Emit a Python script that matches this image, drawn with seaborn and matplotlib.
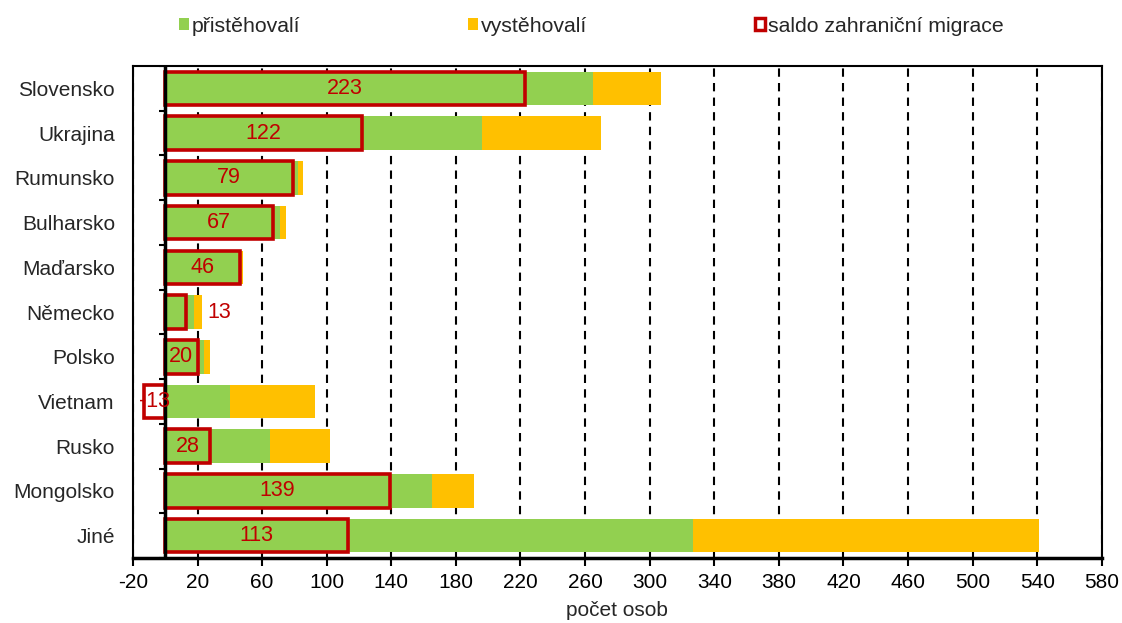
import numpy as np
import pandas as pd
import matplotlib.pyplot as plt
import seaborn as sns
from matplotlib.patches import Patch

# data
countries = ["Slovensko", "Ukrajina", "Rumunsko", "Bulharsko", "Maďarsko", "Německo",
             "Polsko", "Vietnam", "Rusko", "Mongolsko", "Jiné"]
immigrants = [265, 196, 82, 71, 47, 18, 24, 40, 65, 165, 327]
emigrants = [42, 74, 3, 4, 1, 5, 4, 53, 37, 26, 214]
saldo = [223, 122, 79, 67, 46, 13, 20, -13, 28, 139, 113]
x_ticks = list(range(-20, 581, 40))

df = pd.DataFrame({"zeme": countries, "prist": immigrants, "vyst": emigrants, "saldo": saldo})
df["celkem"] = df["prist"] + df["vyst"]

green = "#92D050"
orange = "#FFC000"
red = "#C00000"
fs = 15

sns.set_theme(style="white")
plt.rcParams["font.family"] = ["Liberation Sans", "DejaVu Sans"]
plt.rcParams["font.size"] = fs

fig = plt.figure(figsize=(11.22, 6.23), dpi=100)
ax = fig.add_axes([0.1185, 0.1043, 0.8635, 0.7897])

# stacked bars: orange total underneath, green on top
sns.barplot(data=df, y="zeme", x="celkem", color=orange, saturation=1, width=0.75,
            errorbar=None, orient="h", ax=ax, linewidth=0, zorder=2)
sns.barplot(data=df, y="zeme", x="prist", color=green, saturation=1, width=0.75,
            errorbar=None, orient="h", ax=ax, linewidth=0, zorder=2)
# saldo as outlined boxes
sns.barplot(data=df, y="zeme", x="saldo", color=red, saturation=1, width=0.75,
            errorbar=None, orient="h", ax=ax, facecolor="none", edgecolor=red,
            linewidth=2.6, zorder=3)

# labels of saldo
for i, row in df.iterrows():
    if row["zeme"] == "Německo":
        ax.text(row["celkem"] + 3, i, f"{row['saldo']}", color=red, fontsize=fs + 0.5,
                ha="left", va="center", zorder=5)
    else:
        ax.text(row["saldo"] / 2, i, f"{row['saldo']}", color=red, fontsize=fs + 0.5,
                ha="center", va="center", zorder=5)

# zero line with category ticks
ax.axvline(0, color="black", lw=2.5, zorder=4)
ax.hlines(np.arange(-0.5, len(countries)), -3.8, 0, color="black", lw=1.5, zorder=4)

ax.set_xlim(-20, 580)
ax.set_ylim(len(countries) - 0.5, -0.5)
ax.set_xticks(x_ticks)
ax.set_xticklabels([str(t) for t in x_ticks])
ax.grid(axis="x", color="black", linestyle=(0, (4, 3)), lw=1.5, zorder=0)
ax.grid(axis="y", visible=False)
ax.set_axisbelow(True)

ax.set_xlabel("počet osob", fontsize=fs, labelpad=6)
ax.set_ylabel("")
ax.tick_params(axis="x", direction="out", length=6, width=1.5, bottom=True,
               labelsize=fs, pad=5, colors="black")
ax.tick_params(axis="y", length=0, pad=13, labelsize=fs)

for side in ["left", "top", "right"]:
    ax.spines[side].set_linewidth(1.5)
    ax.spines[side].set_color("black")
ax.spines["bottom"].set_linewidth(2.5)
ax.spines["bottom"].set_color("black")

handles = [Patch(facecolor=green, edgecolor="none"),
           Patch(facecolor=orange, edgecolor="none"),
           Patch(facecolor="white", edgecolor=red, linewidth=2.5)]
labels = ["přistěhovalí", "vystěhovalí", "saldo zahraniční migrace"]
fig.legend(handles, labels, loc="center", bbox_to_anchor=(0.527, 0.958), ncol=3,
           frameon=False, fontsize=fs + 0.3, handlelength=0.45, handleheight=0.45,
           handletextpad=0.15, columnspacing=7.9)

fig.savefig("out.png", dpi=100)
